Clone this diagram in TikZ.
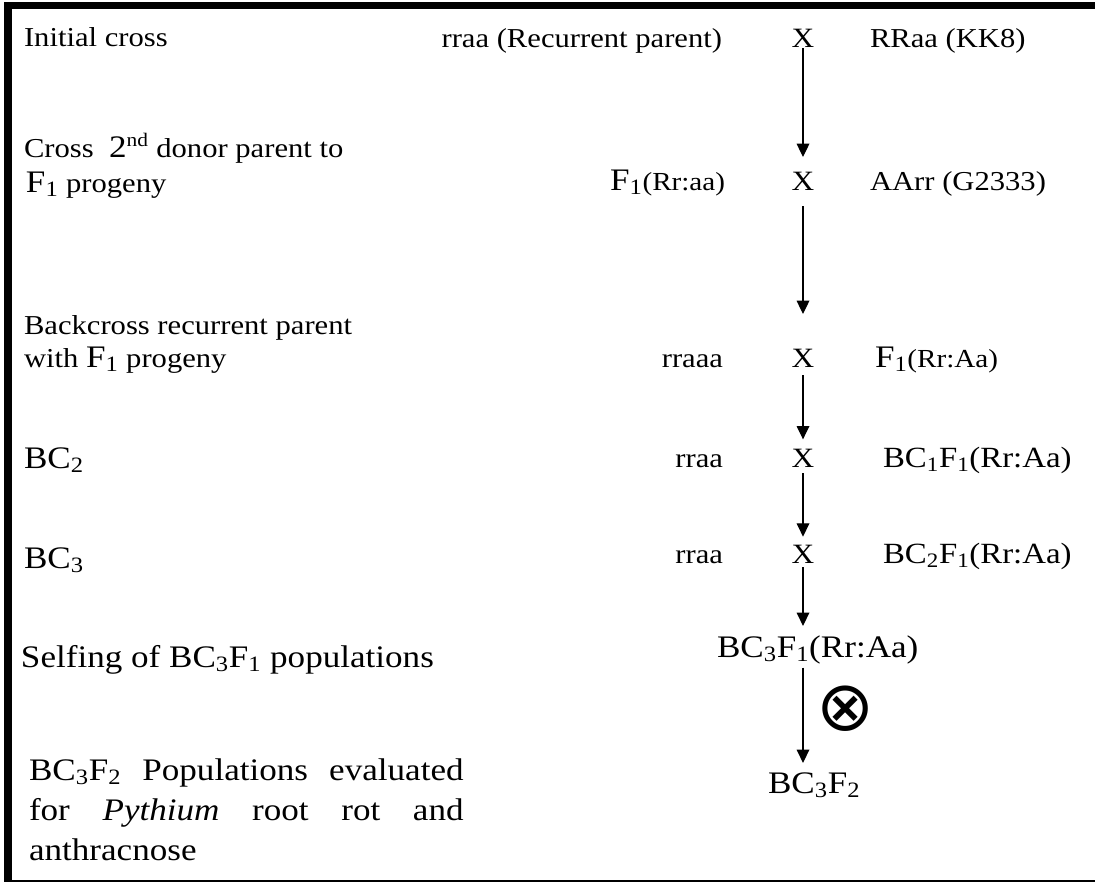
\documentclass[tikz,border=0pt]{standalone}
\usepackage{fontspec}
\setmainfont[FakeStretch=1.12]{Liberation Serif}
\newfontfamily\symfont{DejaVu Sans}
\usetikzlibrary{arrows.meta}
\newcommand\fsm{\fontsize{20.5pt}{24pt}\selectfont}
\newcommand\fmd{\fontsize{22pt}{26pt}\selectfont}
\newcommand\flg{\fontsize{23.5pt}{28pt}\selectfont}
\newcommand\fx{\fontsize{21pt}{24pt}\selectfont}
\newcommand\fpar{\fontsize{19.5pt}{23pt}\selectfont}
\newcommand\sbs[1]{\textsubscript{#1}}
\begin{document}
\begin{tikzpicture}[x=0.75pt,y=-0.75pt,
  every node/.style={inner sep=0pt,outer sep=0pt},
  lab/.style={anchor=base west},
  rlab/.style={anchor=base east},
  xm/.style={anchor=base,font=\fx},
  arr/.style={-{Triangle[length=10pt,width=9.5pt]},line width=0.9pt}]
\useasboundingbox (0,0) rectangle (1095,882);
% frame
\fill (4,2) rectangle (12,882);
\fill (4,2) rectangle (1095,9);
\fill (4,879.5) rectangle (1095,881.5);
% row 1
\node[lab,font=\fsm] (t1) at (24,46) {Initial cross};
\node[rlab,font=\fsm] (p1) at (722,47) {rraa (Recurrent parent)};
\node[xm] (x1) at (803,47) {X};
\node[lab,font=\fsm] (q1) at (870,47) {RRaa (KK8)};
% row 2
\node[lab,font=\fsm] (t2a) at (24,157) {Cross\ \ {\flg 2}\textsuperscript{nd} donor parent to};
\node[lab,font=\fsm] (t2b) at (26,192) {{\flg F\sbs{1}} progeny};
\node[rlab,font=\fpar] (p2) at (725,190) {{\flg F\sbs{1}}(Rr:aa)};
\node[xm] (x2) at (803,190) {X};
\node[lab,font=\fsm] (q2) at (870,190) {AArr (G2333)};
% row 3
\node[lab,font=\fsm] (t3a) at (24,334) {Backcross recurrent parent};
\node[lab,font=\fsm] (t3b) at (24,367) {with {\flg F\sbs{1}} progeny};
\node[rlab,font=\fsm] (p3) at (723,367) {rraaa};
\node[xm] (x3) at (803,367) {X};
\node[lab,font=\fpar] (q3) at (875,367) {{\flg F\sbs{1}}(Rr:Aa)};
% row 4
\node[lab,font=\flg] (t4) at (24,468) {BC\sbs{2}};
\node[rlab,font=\fsm] (p4) at (723,467) {rraa};
\node[xm] (x4) at (803,467) {X};
\node[lab,font=\fmd] (q4) at (883,467) {BC\sbs{1}F\sbs{1}(Rr:Aa)};
% row 5
\node[lab,font=\flg] (t5) at (24,568) {BC\sbs{3}};
\node[rlab,font=\fsm] (p5) at (723,563) {rraa};
\node[xm] (x5) at (803,563) {X};
\node[lab,font=\fmd] (q5) at (883,563) {BC\sbs{2}F\sbs{1}(Rr:Aa)};
% row 6
\node[lab,font=\flg] (t6) at (21,667) {Selfing of BC\sbs{3}F\sbs{1} populations};
\node[lab,font=\flg] (b6) at (717,657) {BC\sbs{3}F\sbs{1}(Rr:Aa)};
\node[font=\symfont\fontsize{52pt}{56pt}\selectfont] (self) at (846,709) {⊗};
% row 7
\node[lab,font=\flg] (b7) at (768,793) {BC\sbs{3}F\sbs{2}};
\node[lab,font=\flg] (l1) at (29,780) {\makebox[326pt][s]{BC\sbs{3}F\sbs{2} Populations evaluated}};
\node[lab,font=\flg] (l2) at (29,820) {\makebox[326pt][s]{for \textit{Pythium} root rot and}};
\node[lab,font=\flg] (l3) at (29,860) {anthracnose};
% arrows
\draw[arr,shorten <=1pt,shorten >=11pt] (x1.south) -- (x2.north);
\draw[arr,shorten <=12pt,shorten >=26pt] (x2.south) -- (x3.north);
\draw[arr,shorten <=6pt,shorten >=7pt] (x3.south) -- (x4.north);
\draw[arr,shorten <=4.5pt,shorten >=6pt] (x4.south) -- (x5.north);
\draw[arr,shorten <=3pt,shorten >=7pt] (x5.south) -- (x5.south |- b6.north);
\draw[arr,shorten <=3pt,shorten >=7pt] (x5.south |- b6.south) -- (x5.south |- b7.north);
\end{tikzpicture}
\end{document}
